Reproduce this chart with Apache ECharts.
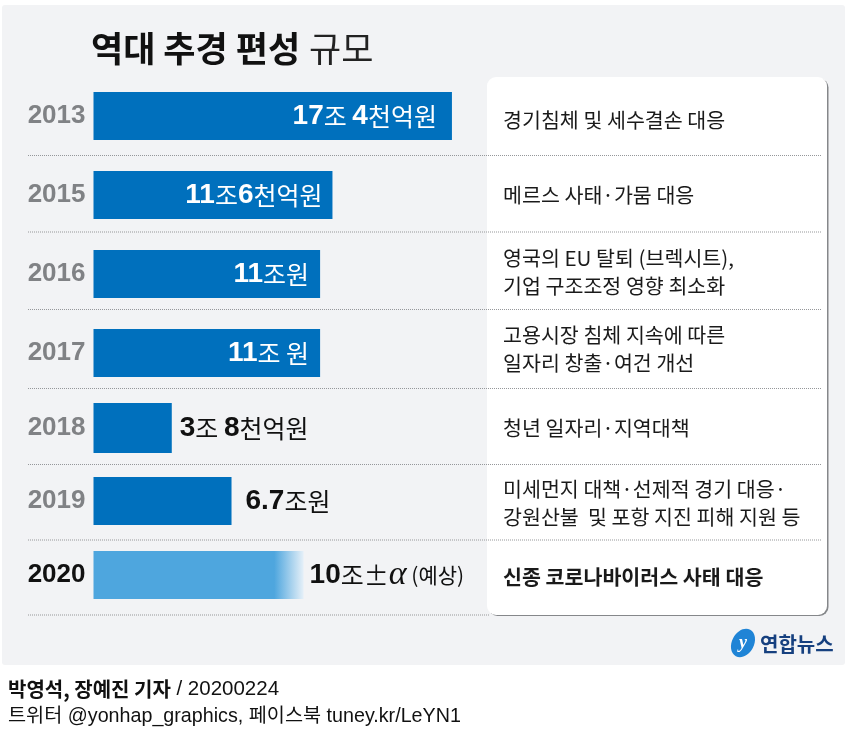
<!DOCTYPE html>
<html>
<head>
<meta charset="utf-8">
<style>
html,body{margin:0;padding:0;background:#fff;}
#chart{width:848px;height:729px;}
</style>
<script src="https://cdn.jsdelivr.net/npm/echarts@6/dist/echarts.min.js"></script>
</head>
<body>
<div id="chart"></div>
<script>
var years = ["2013","2015","2016","2017","2018","2019","2020"];
var budgets = [17.4,11.6,11,11,3.8,6.7,10.2];
var valueLabels = [
	"{n|17}{t|조 }{n|4}{t|천억원}",
	"{n|11}{t|조}{n|6}{t|천억원}",
	"{n|11}{t|조원}",
	"{n|11}{t|조 원}",
	"{n|3}{t|조 }{n|8}{t|천억원}",
	"{n|6.7}{t|조원}",
	"{n|10}{t|조}{p|±}{a|α}{s| (예상)}"
];
var reasons = [
	"경기침체 및 세수결손 대응",
	"메르스 사태·가뭄 대응",
	"영국의 EU 탈퇴 (브렉시트),\n기업 구조조정 영향 최소화",
	"고용시장 침체 지속에 따른\n일자리 창출·여건 개선",
	"청년 일자리·지역대책",
	"미세먼지 대책·선제적 경기 대응·\n강원산불  및 포항 지진 피해 지원 등",
	"신종 코로나바이러스 사태 대응"
];

// 행 간격이 일정하지 않아서 행마다 grid를 따로 둔다
var rowTop = [92,171,250,329,403,477,551];
var rowHeight = [48,48,48,48,50,48,48];
var reasonY = [120,195,272,349,428,503,577];
var ruleY = [155.5,232,309.5,388.5,464.5,540,615];
var labelPos = ["insideRight","insideRight","insideRight","insideRight","right","right","right"];
var labelGap = [15,10,11,11,8,14,6];

var hangul = '"Noto Sans CJK KR"';
var digits = '"Liberation Sans",' + hangul;

var grids = [], xAxes = [], yAxes = [], series = [], graphics = [];

graphics.push({type:"rect",z:-5,shape:{x:2,y:5,width:843,height:660,r:3},style:{fill:"#f2f3f5"}});
graphics.push({type:"rect",z:-4,shape:{x:488.5,y:78.5,width:340,height:537.5,r:9},style:{fill:"#85878a"}});
graphics.push({type:"rect",z:-3,shape:{x:487,y:77,width:340,height:538,r:9},style:{fill:"#ffffff"}});

for(var i=0;i<years.length;i++){
	var last = i == years.length-1;
	grids.push({left:93.5,top:rowTop[i],width:412,height:rowHeight[i],outerBoundsMode:"none"});
	xAxes.push({gridIndex:i,type:"value",min:0,max:20,show:false});
	yAxes.push({
		gridIndex:i,type:"category",data:[years[i]],
		axisLine:{show:false},axisTick:{show:false},
		axisLabel:{margin:8,fontFamily:digits,fontWeight:"bold",fontSize:26,color:last?"#111111":"#808285"}
	});
	var textColor = labelPos[i] == "insideRight" ? "#ffffff" : "#111111";
	series.push({
		type:"bar",xAxisIndex:i,yAxisIndex:i,barWidth:"100%",silent:true,
		data:[{
			value:budgets[i],
			itemStyle:{color:last?{type:"linear",x:0,y:0,x2:1,y2:0,colorStops:[
				{offset:0,color:"#4ea6de"},{offset:0.86,color:"#4ea6de"},{offset:1,color:"#e6f0f8"}
			]}:"#0070bd"}
		}],
		label:{
			show:true,position:labelPos[i],distance:labelGap[i],
			formatter:valueLabels[i],
			rich:{
				n:{fontFamily:digits,fontWeight:"bold",fontSize:28,color:textColor},
				t:{fontFamily:hangul,fontSize:25,color:textColor},
				p:{fontFamily:hangul,fontSize:25,color:textColor},
				a:{fontFamily:"Liberation Serif",fontStyle:"italic",fontSize:34,color:textColor},
				s:{fontFamily:hangul,fontSize:21,color:textColor}
			}
		}
	});
	graphics.push({
		type:"text",x:503,y:reasonY[i],z:3,
		style:{
			text:reasons[i],fill:"#1a1a1a",fontFamily:hangul,
			fontWeight:last?"bold":"normal",fontSize:20.6,lineHeight:28,
			verticalAlign:"middle",align:"left"
		}
	});
	graphics.push({
		type:"line",z:1,
		shape:{x1:28,y1:ruleY[i],x2:last?490:821,y2:ruleY[i]},
		style:{stroke:"#95979a",lineWidth:1,lineDash:[1,1]}
	});
}

// 연합뉴스 로고
graphics.push({type:"ellipse",z:3,x:743,y:643,rotation:-0.5,shape:{cx:0,cy:0,rx:11,ry:15},style:{fill:"#1f84d6"}});
graphics.push({type:"text",z:4,x:743,y:643,style:{text:"y",fill:"#ffffff",fontFamily:"Liberation Serif",fontStyle:"italic",fontWeight:"bold",fontSize:18,align:"center",verticalAlign:"middle"}});
graphics.push({type:"text",z:3,x:760,y:644,style:{text:"연합뉴스",fill:"#16407f",fontFamily:hangul,fontWeight:"bold",fontSize:20,verticalAlign:"middle"}});

// 크레딧
graphics.push({type:"text",x:8,y:689,style:{
	text:"{b|박영석, 장예진 기자}{r| / 20200224}",fontFamily:hangul,verticalAlign:"middle",
	rich:{b:{fontFamily:hangul,fontWeight:"bold",fontSize:20,fill:"#111111"},r:{fontFamily:digits,fontSize:20.5,fill:"#111111"}}
}});
graphics.push({type:"text",x:8,y:717,style:{
	text:"트위터 @yonhap_graphics, 페이스북 tuney.kr/LeYN1",fill:"#111111",
	fontFamily:digits,fontSize:19.7,verticalAlign:"middle"
}});

var myChart = echarts.init(document.getElementById("chart"));
myChart.setOption({
	animation:false,
	title:{
		left:86,top:26,
		text:"{b|역대 추경 편성} {r|규모}",
		textStyle:{rich:{
			b:{fontFamily:hangul,fontWeight:"bold",fontSize:35,color:"#111111"},
			r:{fontFamily:hangul,fontWeight:"normal",fontSize:35,color:"#222222",padding:[0,0,0,4]}
		}}
	},
	grid:grids,
	xAxis:xAxes,
	yAxis:yAxes,
	series:series,
	graphic:graphics
});
</script>
</body>
</html>
